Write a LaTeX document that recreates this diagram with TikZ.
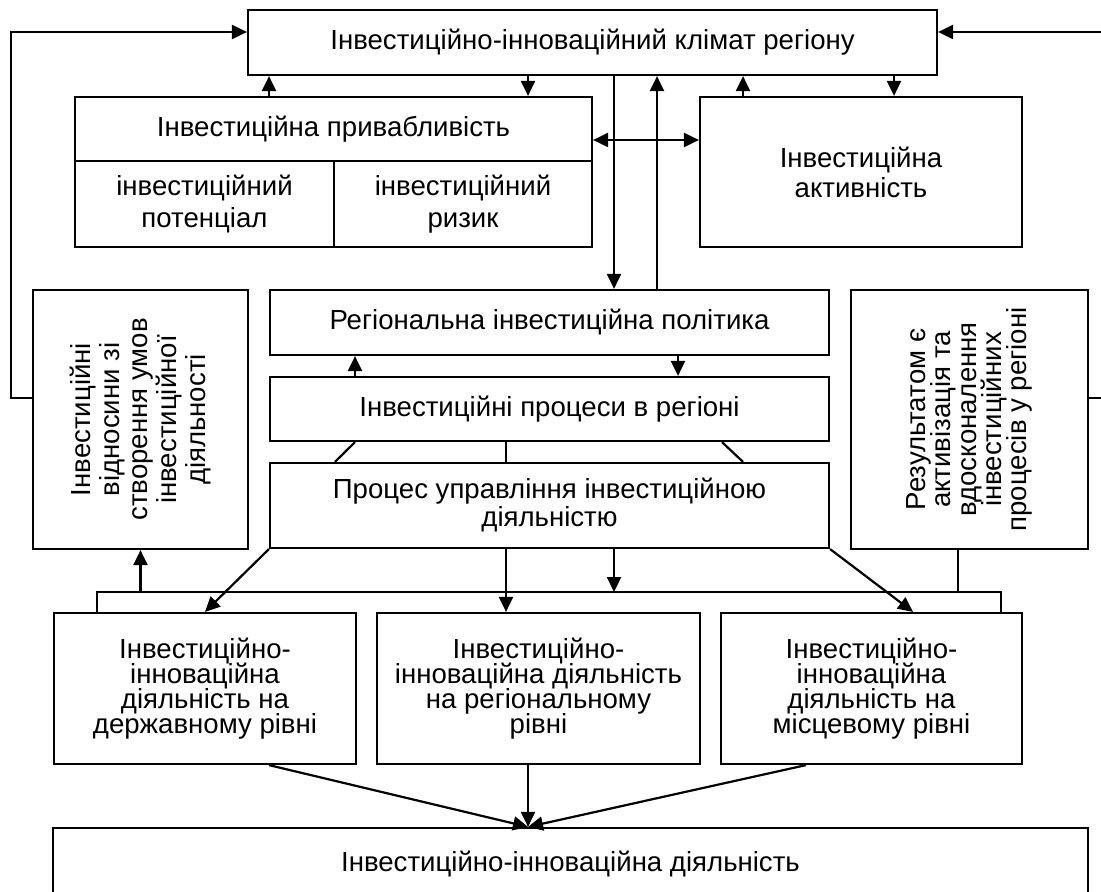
\documentclass[tikz,border=0pt]{standalone}
\usepackage{fontspec}
\setmainfont{Liberation Sans}
\usetikzlibrary{arrows.meta}
\lineskiplimit=-20pt
\newcommand{\boxfont}[1]{\fontsize{13.8}{#1}\selectfont}

\tikzset{
  box/.style={draw, line width=1.1pt, align=center, inner sep=2pt},
  link/.style={line width=1.1pt},
  >={Triangle[length=7.5pt,width=7pt]}
}

\begin{document}
\begin{tikzpicture}[x=0.5pt, y=-0.5pt, every node/.style={font=\boxfont{16}}]
    \useasboundingbox (0,0) rectangle (1101,892);

    % Climate of the region
    \node[box, minimum width=344.5pt, minimum height=32.5pt] (clim) at (592.5,42.5) {Інвестиційно-інноваційний клімат регіону};

    % Attractiveness and its two parts
    \node[box, minimum width=258.5pt, minimum height=32pt] (attr) at (333.5,129) {Інвестиційна привабливість};
    \node[box, minimum width=129.5pt, minimum height=43pt] (pot) at (204.5,204) {інвестиційний\\потенціал};
    \node[box, minimum width=129pt, minimum height=43pt] (risk) at (463,204) {інвестиційний\\ризик};

    % Activity
    \node[box, minimum width=161pt, minimum height=75pt, font=\boxfont{15}] (act) at (861,172) {Інвестиційна\\активність};

    % Middle column
    \node[box, minimum width=279.5pt, minimum height=32.5pt] (polit) at (549.5,322.5) {Регіональна інвестиційна політика};
    \node[box, minimum width=279.5pt, minimum height=32pt] (proc) at (549.5,409) {Інвестиційні процеси в регіоні};
    \node[box, minimum width=279.5pt, minimum height=42.5pt, font=\boxfont{14}] (mgmt) at (549.5,505.5) {Процес управління інвестиційною\\діяльністю};

    % Side boxes, text turned up (north = left side, west = bottom side)
    \node[box, rotate=90, minimum width=129.5pt, minimum height=107.5pt, font=\boxfont{14.3}] (rel) at (140.5,419.5) {Інвестиційні\\відносини зі\\створення умов\\інвестиційної\\діяльності};
    \node[box, rotate=90, minimum width=129.5pt, minimum height=118.5pt, font=\boxfont{12.7}] (res) at (969.5,419.5) {Результатом є\\активізація та\\вдосконалення\\інвестиційних\\процесів у регіоні};

    % Levels of activity
    \node[box, minimum width=151pt, minimum height=75.5pt, font=\boxfont{12.5}] (state) at (205,688.5) {Інвестиційно-\\інноваційна\\діяльність на\\державному рівні};
    \node[box, minimum width=161.5pt, minimum height=75.5pt, font=\boxfont{12.5}] (reg) at (538.5,688.5) {Інвестиційно-\\інноваційна діяльність\\на регіональному\\рівні};
    \node[box, minimum width=150.5pt, minimum height=75.5pt, font=\boxfont{12.5}] (loc) at (871.5,688.5) {Інвестиційно-\\інноваційна\\діяльність на\\місцевому рівні};

    % Result
    \node[box, minimum width=517.5pt, minimum height=36pt] (total) at (570.5,864) {Інвестиційно-інноваційна діяльність};

    % Helper points
    \coordinate (fbL) at (11,398);
    \coordinate (fbR) at (1102,398);
    \coordinate (ya) at (0,32);
    \coordinate (yd) at (0,140);
    \coordinate (bL) at (97,592);
    \coordinate (bR) at (1001,592);
    \coordinate (xa) at (269,0);
    \coordinate (xb) at (528,0);
    \coordinate (xc) at (614,0);
    \coordinate (xd) at (657,0);
    \coordinate (xe) at (743,0);
    \coordinate (xf) at (894,0);
    \coordinate (xg) at (355,0);
    \coordinate (xh) at (678,0);
    \coordinate (xi) at (506,0);
    \coordinate (xj) at (958,0);
    \coordinate (xk) at (335,0);
    \coordinate (xl) at (722,0);
    \coordinate (xm) at (913,0);
    \coordinate (xn) at (806,0);

    % Climate with attractiveness and activity
    \draw[link,->] (attr.north -| xa) -- (clim.south -| xa);
    \draw[link,->] (clim.south -| xb) -- (attr.north -| xb);
    \draw[link,->] (act.north -| xe) -- (clim.south -| xe);
    \draw[link,->] (clim.south -| xf) -- (act.north -| xf);
    \draw[link,<->] (attr.east |- yd) -- (act.west |- yd);

    % Climate with policy
    \draw[link,->] (clim.south -| xc) -- (polit.north -| xc);
    \draw[link,->] (polit.north -| xd) -- (clim.south -| xd);

    % Policy, processes, management
    \draw[link,->] (proc.north -| xg) -- (polit.south -| xg);
    \draw[link,->] (polit.south -| xh) -- (proc.north -| xh);
    \draw[link] (proc.south -| xg) -- (mgmt.north -| xk);
    \draw[link] (proc.south -| xi) -- (mgmt.north -| xi);
    \draw[link] (proc.south -| xl) -- (mgmt.north -| xe);

    % Feedback to the climate
    \draw[link,->] (rel.north |- fbL) -- (fbL) |- (clim.west |- ya);
    \draw[link,->] (res.south |- fbR) -- (fbR) |- (clim.east |- ya);

    % Bus under management
    \draw[link] (state.north -| bL) -- (bL) -- (bR) -- (loc.north -| bR);
    \draw[link,->] (rel.west |- bL) -- (rel.west);
    \draw[link] (res.west -| xj) -- (xj |- bL);
    \draw[link,->] (mgmt.south -| xc) -- (xc |- bL);
    \draw[link,->] (mgmt.south west) -- (state.north);
    \draw[link,->] (mgmt.south -| xi) -- (reg.north -| xi);
    \draw[link,->] (mgmt.south east) -- (loc.north -| xm);

    % Levels into the result
    \draw[link,->] (state.south -| xa) -- (total.north -| xb);
    \draw[link,->] (reg.south -| xb) -- (total.north -| xb);
    \draw[link,->] (loc.south -| xn) -- (total.north -| xb);
\end{tikzpicture}
\end{document}
